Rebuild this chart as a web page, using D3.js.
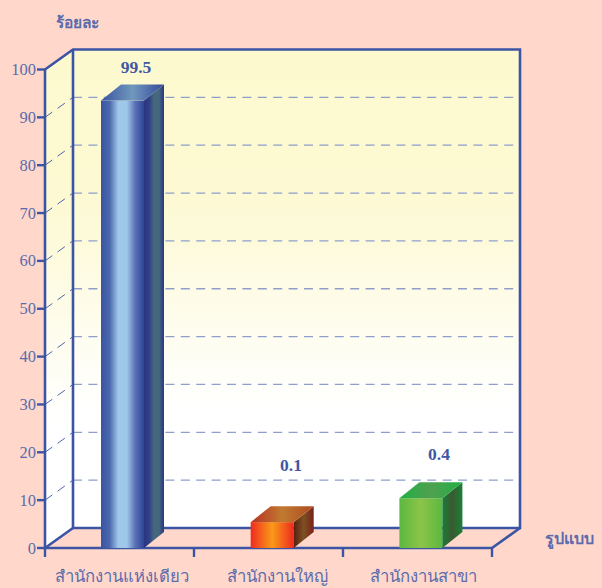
<!DOCTYPE html>
<html><head><meta charset="utf-8">
<script src="https://cdn.jsdelivr.net/npm/d3@7"></script>
<style>html,body{margin:0;padding:0;background:#ffd8cb}svg{display:block}
text{font-family:"Liberation Serif","Noto Sans",serif}</style></head>
<body><svg id="c" width="602" height="588"></svg>
<script>
const categories = ["สำนักงานแห่งเดียว","สำนักงานใหญ่","สำนักงานสาขา"];
const valueLabels = ["99.5","0.1","0.4"];
const drawnHeights = [93.5,5.4,10.4];
const yTicks = [0,10,20,30,40,50,60,70,80,90,100];
const yTitle = "ร้อยละ";
const xTitle = "รูปแบบ";
const barFaces = [
 {front:["#3a53a2","#4a68ad","#9fc7ea","#9fc7ea","#5a70b4","#2f4497"],side:["#2a3583","#2f3f85","#46687f","#46687f","#2a3583"],top:["#3a53a2","#7098bc","#34489a"]},
 {front:["#f02a20","#fa9a18","#ee2a20"],side:["#5a1f10","#7c5222","#7a2018"],top:["#b83022","#c07a30","#b04a20"]},
 {front:["#5cb840","#8cc448","#5cb840"],side:["#1a7c38","#3a5a30","#1a8038"],top:["#20b044","#50a050","#20b044"]}
];
const ink="#3c54a4", txt="#5a6cad", bold="#3f57a5", dashCol="#8f9fcc";
const dx=28, dy=-20, bdx=20, bdy=-16;
const svg=d3.select("#c");
const y=d3.scaleLinear().domain([0,100]).range([548,69.5]);
const x=d3.scaleBand().domain(categories).range([45,492]);
const defs=svg.append("defs");
function grad(id,stops,vertical){
  const g=defs.append("linearGradient").attr("id",id).attr("x1",0).attr("y1",0).attr("x2",vertical?0:1).attr("y2",vertical?1:0);
  stops.forEach((c,i)=>g.append("stop").attr("offset",i/(stops.length-1)).attr("stop-color",c));
}
const wg=defs.append("linearGradient").attr("id","wall").attr("x1",0).attr("y1",0).attr("x2",0).attr("y2",1);
[[0,"#fdf9cf"],[0.3,"#fdf9d2"],[0.75,"#ffffff"],[1,"#ffffff"]].forEach(s=>wg.append("stop").attr("offset",s[0]).attr("stop-color",s[1]));
const [x0,x1]=x.range(), y0=y(0), yT=y(100);
// walls
svg.append("path").attr("d",`M${x0},${y0}L${x0},${yT}L${x0+dx},${yT+dy}L${x0+dx},${y0+dy}Z`).attr("fill","url(#wall)");
svg.append("rect").attr("x",x0+dx).attr("y",yT+dy).attr("width",x1-x0).attr("height",y0-yT).attr("fill","url(#wall)");
// gridlines
const gt=yTicks.filter(t=>t>0&&t<100);
svg.selectAll(".g").data(gt).join("line").attr("x1",x0+dx).attr("x2",x1+dx).attr("y1",d=>y(d)+dy).attr("y2",d=>y(d)+dy)
  .attr("stroke",dashCol).attr("stroke-width",1.3).attr("stroke-dasharray","9 6.4");
svg.selectAll(".s").data(gt).join("line").attr("x1",x0).attr("x2",x0+dx).attr("y1",d=>y(d)).attr("y2",d=>y(d)+dy)
  .attr("stroke",ink).attr("stroke-width",0.9).attr("stroke-dasharray","9 6.4");
// frame
const fr=svg.append("g").attr("fill","none").attr("stroke",ink).attr("stroke-width",2.6).attr("stroke-linejoin","miter");
fr.append("path").attr("d",`M${x0},${yT}L${x0+dx},${yT+dy}L${x1+dx},${yT+dy}L${x1+dx},${y0+dy}L${x0+dx},${y0+dy}L${x0+dx},${yT+dy}`);
fr.append("path").attr("d",`M${x0},${y0}L${x0+dx},${y0+dy}M${x1},${y0}L${x1+dx},${y0+dy}`);
fr.append("path").attr("d",`M${x0},${yT}L${x0},${y0}L${x1},${y0}`);
// ticks
svg.selectAll(".yt").data(yTicks).join("line").attr("x1",x0-8).attr("x2",x0).attr("y1",d=>y(d)).attr("y2",d=>y(d)).attr("stroke",ink).attr("stroke-width",2.4);
const xt=[...categories.map(c=>x(c)),x1];
svg.selectAll(".xt").data(xt).join("line").attr("x1",d=>d).attr("x2",d=>d).attr("y1",y0).attr("y2",y0+9).attr("stroke",ink).attr("stroke-width",2.4);
svg.selectAll(".yl").data(yTicks).join("text").attr("x",x0-9).attr("y",d=>y(d)+5.5).attr("text-anchor","end").attr("font-size",16.5).attr("fill",txt).text(d=>d);
// bars
const bw=43, barOffsets=[56,57,57];
categories.forEach((c,i)=>{
  const f=barFaces[i], L=x(c)+barOffsets[i]-(i===0?0:i*0.3), R=L+bw, t=y(drawnHeights[i]);
  grad("f"+i,f.front); grad("s"+i,f.side); grad("t"+i,f.top);
  svg.append("rect").attr("x",L).attr("y",t).attr("width",bw).attr("height",y0-t).attr("fill",`url(#f${i})`);
  svg.append("path").attr("d",`M${R},${t}L${R+bdx},${t+bdy}L${R+bdx},${y0+bdy}L${R},${y0}Z`).attr("fill",`url(#s${i})`);
  svg.append("path").attr("d",`M${L},${t}L${L+bdx},${t+bdy}L${R+bdx},${t+bdy}L${R},${t}Z`).attr("fill",`url(#t${i})`);
});
// value labels
const labelY=[73,471,460];
svg.selectAll(".v").data(valueLabels).join("text").attr("x",(d,i)=>x(categories[i])+[91,97,96][i]).attr("y",(d,i)=>labelY[i])
  .attr("text-anchor","middle").attr("font-size",17.5).attr("font-weight","bold").attr("fill",bold).text(d=>d);
// category labels
svg.selectAll(".c").data(categories).join("text").attr("x",(d,i)=>x(d)+[76.5,83,80][i]).attr("y",582)
  .attr("text-anchor","middle").attr("font-size",16.7).attr("fill",txt).text(d=>d);
svg.append("text").attr("x",56).attr("y",28).attr("font-size",15.5).attr("font-weight","bold").attr("fill",txt).text(yTitle);
svg.append("text").attr("x",545).attr("y",544).attr("font-size",16).attr("font-weight","bold").attr("fill",txt).text(xTitle);
</script></body></html>
